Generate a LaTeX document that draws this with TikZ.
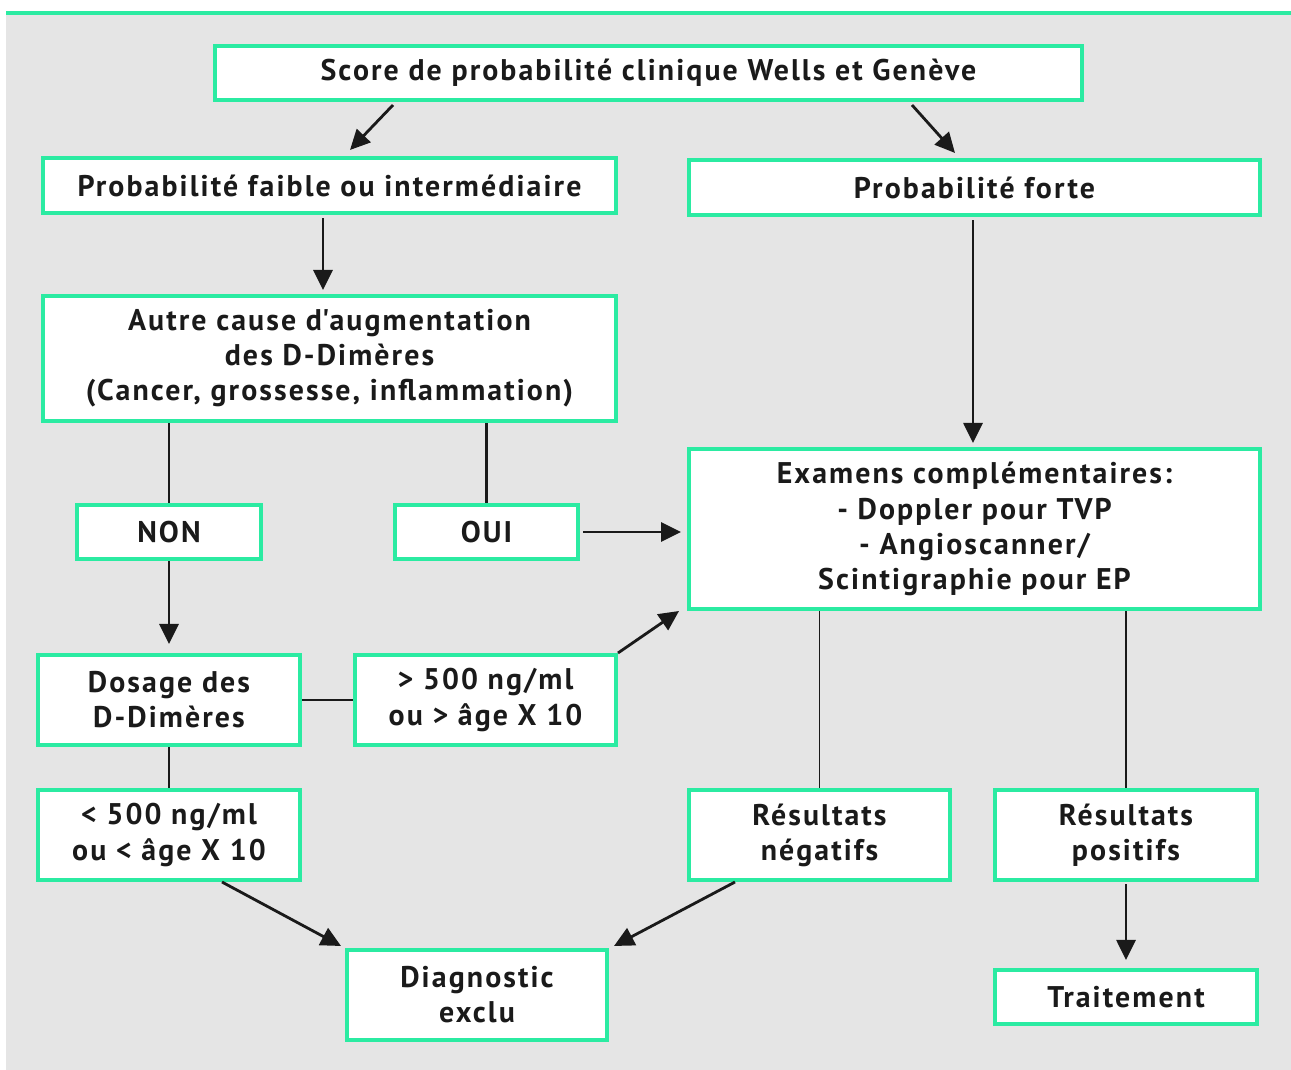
\documentclass[tikz,border=0pt]{standalone}
\usepackage{fontspec}
\setmainfont{PT Sans}
\newfontfamily\fcfont[LetterSpace=7]{PT Sans}
\usetikzlibrary{arrows.meta,positioning,calc}
\definecolor{fcMint}{HTML}{2BEBA2}
\definecolor{fcGray}{HTML}{E5E5E5}
\definecolor{fcInk}{HTML}{1A1A1A}

\begin{document}
\begin{tikzpicture}[x=0.02cm, y=-0.02cm,
          box/.style={draw=fcMint, line width=2.3pt, fill=white, inner sep=2pt,
            font=\fcfont\fontsize{17}{20}\selectfont\bfseries, text=fcInk, align=center},
          arr/.style={-{Triangle[length=4mm,width=3.8mm]}, line width=1.6pt, fcInk},
          ln/.style={line width=1.4pt, fcInk},
          thin ln/.style={line width=1pt, fcInk}]
        \useasboundingbox (0,0) rectangle (1291,1070);
        % background panel
        \fill[fcGray] (6,13) rectangle (1291,1070);
        \fill[fcMint] (6,11) rectangle (1291,15);

        \node[box, minimum width=17.34cm, minimum height=1.08cm] (score) at (648.5,73)
          {Score de probabilité clinique Wells et Genève};
        \node[box, minimum width=11.46cm, minimum height=1.1cm] (faible) at (329.5,185.5)
          {Probabilité faible ou intermédiaire};
        \node[box, minimum width=11.42cm, minimum height=1.1cm] (forte) at (974.5,187.5)
          {Probabilité forte};
        \node[box, minimum width=11.46cm, minimum height=2.5cm] (autre) at (329.5,358.5)
          {Autre cause d\textquotesingle augmentation\\des D-Dimères\\(Cancer, grossesse, inflammation)};
        \node[box, minimum width=3.68cm, minimum height=1.08cm] (non) at (169,532) {NON};
        \node[box, minimum width=3.66cm, minimum height=1.08cm] (oui) at (486.5,532) {OUI};
        \node[box, minimum width=11.42cm, minimum height=3.2cm] (exam) at (974.5,529)
          {Examens complémentaires:\\- Doppler pour TVP\\- Angioscanner/\\Scintigraphie pour EP};
        \node[box, minimum width=5.24cm, minimum height=1.8cm] (dosage) at (169,700)
          {Dosage des\\D-Dimères};
        \node[box, minimum width=5.22cm, minimum height=1.8cm] (sup) at (485.5,700)
          {> 500 ng/ml\\ou > âge X 10};
        \node[box, minimum width=5.24cm, minimum height=1.8cm] (inf) at (169,835)
          {< 500 ng/ml\\ou < âge X 10};
        \node[box, minimum width=5.22cm, minimum height=1.8cm] (neg) at (819.5,835)
          {Résultats\\négatifs};
        \node[box, minimum width=5.24cm, minimum height=1.8cm] (pos) at (1126,835)
          {Résultats\\positifs};
        \node[box, minimum width=5.2cm, minimum height=1.8cm] (diag) at (477,995)
          {Diagnostic\\exclu};
        \node[box, minimum width=5.24cm, minimum height=1.08cm] (trait) at (1126,997)
          {Traitement};

        \draw[arr] ($(score.south)+(-255.5,3)$) -- ($(faible.north)+(20.5,-6)$);
        \draw[arr] ($(score.south)+(263.5,3)$) -- ($(forte.north)+(-19.5,-5)$);
        \draw[arr] ($(faible.south)+(-6.5,3)$) -- ($(autre.north)+(-6.5,-4)$);
        \draw[arr] ($(forte.south)+(-1.5,3)$) -- ($(exam.north)+(-1.5,-4)$);
        \draw[ln] (autre.south -| non.north) -- (non.north);
        \draw[ln] (autre.south -| oui.north) -- (oui.north);
        \draw[arr] ($(oui.east)+(3,0)$) -- ($(exam.west |- oui.east)+(-6,0)$);
        \draw[arr] (non.south) -- ($(dosage.north)+(0,-9)$);
        \draw[ln] (dosage.east) -- (sup.west);
        \draw[arr] (sup.north east) -- ($(exam.south west)+(-8,0)$);
        \draw[ln] (dosage.south) -- (inf.north);
        \draw[arr] ($(inf.south)+(53,0)$) -- ($(diag.north west)+(-4,-2)$);
        \draw[thin ln] (exam.south -| neg.north) -- (neg.north);
        \draw[thin ln] (exam.south -| pos.north) -- (pos.north);
        \draw[arr] ($(neg.south)+(-84.5,0)$) -- ($(diag.north east)+(5,-2)$);
        \draw[arr] ($(pos.south)+(0,2)$) -- ($(trait.north)+(0,-8)$);
      \end{tikzpicture}
\end{document}
